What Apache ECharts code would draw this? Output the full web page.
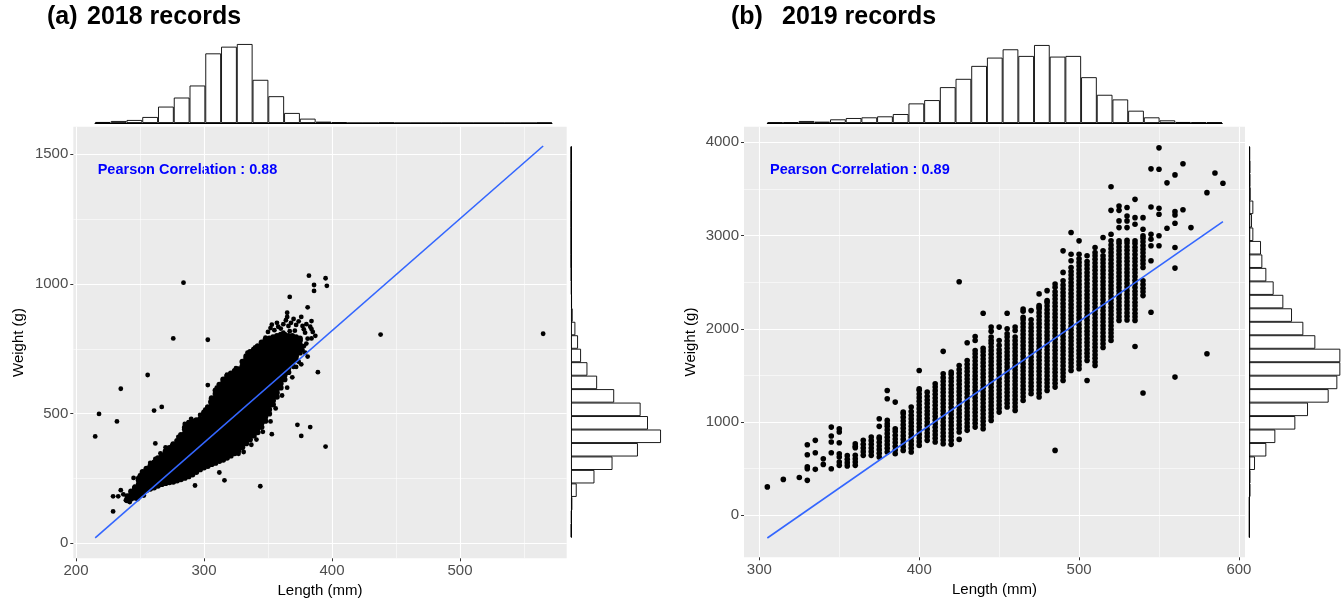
<!DOCTYPE html>
<html>
<head>
<meta charset="utf-8">
<script src="https://cdn.jsdelivr.net/npm/echarts@6/dist/echarts.min.js"></script>
<style>
  html, body { margin: 0; padding: 0; background: #fff; }
  #chart { width: 1343px; height: 600px; }
</style>
</head>
<body>
<div id="chart"></div>
<script>
// ---------- 2018 records ----------
// dense core: one length (mm) per column, weights (g) read off the cloud
const len18 = [240, 243, 246, 249, 252, 255, 258, 261, 264, 267, 270, 273, 276, 279, 282, 285, 288, 291, 294, 297,
  300, 303, 306, 309, 312, 315, 318, 321, 324, 327, 330, 333, 336, 339, 342, 345, 348, 351, 354, 357, 360, 363, 366, 369, 372, 375];
const wt18 = [
  [166, 182],
  [172, 187, 200],
  [176, 192, 207, 215],
  [180, 196, 212, 228, 243, 250],
  [190, 205, 221, 237, 253, 268, 275],
  [205, 220, 236, 252, 267, 282, 288],
  [210, 226, 242, 257, 273, 289, 298],
  [215, 231, 247, 262, 278, 294, 305, 312],
  [222, 238, 254, 269, 285, 301, 316, 328],
  [228, 244, 259, 275, 291, 306, 322, 334, 340],
  [232, 248, 264, 279, 295, 311, 326, 342, 355],
  [235, 251, 267, 282, 298, 314, 329, 345, 360, 368],
  [237, 253, 269, 284, 300, 316, 331, 347, 363, 376, 382],
  [242, 258, 273, 289, 305, 320, 336, 352, 367, 383, 395],
  [247, 263, 278, 294, 310, 325, 341, 357, 372, 388, 404, 418],
  [252, 268, 283, 299, 315, 330, 346, 362, 377, 393, 409, 424, 440, 447],
  [258, 274, 289, 305, 321, 336, 352, 368, 383, 399, 415, 430, 446, 462],
  [265, 281, 296, 312, 328, 343, 359, 375, 390, 406, 422, 437, 453, 470],
  [275, 290, 306, 322, 337, 353, 369, 384, 400, 416, 431, 447, 463, 475],
  [285, 301, 316, 332, 348, 363, 379, 395, 410, 426, 442, 457, 473, 480],
  [292, 308, 323, 339, 355, 370, 386, 402, 417, 433, 449, 464, 480, 496, 505],
  [298, 314, 330, 345, 361, 377, 392, 408, 424, 439, 455, 471, 486, 502, 518, 525],
  [305, 321, 336, 352, 368, 383, 399, 415, 430, 446, 462, 477, 493, 509, 524, 540, 556, 560],
  [310, 326, 342, 357, 373, 389, 404, 420, 436, 451, 467, 483, 498, 514, 530, 545, 561, 577, 590],
  [317, 333, 348, 364, 380, 395, 411, 427, 442, 458, 474, 489, 505, 521, 536, 552, 568, 583, 599, 612],
  [322, 338, 354, 369, 385, 401, 416, 432, 448, 463, 479, 495, 510, 526, 542, 557, 573, 589, 604, 620, 632],
  [330, 346, 361, 377, 393, 408, 424, 440, 455, 471, 487, 502, 518, 534, 549, 565, 581, 596, 612, 628, 645],
  [338, 354, 369, 385, 401, 416, 432, 448, 463, 479, 495, 510, 526, 542, 557, 573, 589, 604, 620, 636, 651, 655],
  [347, 363, 378, 394, 410, 425, 441, 457, 472, 488, 504, 519, 535, 551, 566, 582, 598, 613, 629, 645, 660, 665],
  [358, 374, 389, 405, 421, 436, 452, 468, 483, 499, 515, 530, 546, 562, 577, 593, 609, 624, 640, 656, 672],
  [370, 386, 401, 417, 433, 448, 464, 480, 495, 511, 527, 542, 558, 574, 589, 605, 621, 636, 652, 668, 683, 700],
  [385, 401, 416, 432, 448, 463, 479, 495, 510, 526, 542, 557, 573, 589, 604, 620, 636, 651, 667, 683, 698, 714, 722],
  [400, 416, 431, 447, 463, 478, 494, 510, 525, 541, 557, 572, 588, 604, 619, 635, 651, 666, 682, 698, 713, 729, 738],
  [415, 431, 446, 462, 478, 493, 509, 525, 540, 556, 572, 587, 603, 619, 634, 650, 666, 681, 697, 713, 728, 744, 748],
  [428, 444, 459, 475, 491, 506, 522, 538, 553, 569, 585, 600, 616, 632, 647, 663, 679, 694, 710, 726, 741, 757, 760],
  [448, 464, 479, 495, 511, 526, 542, 558, 573, 589, 605, 620, 636, 652, 667, 683, 699, 714, 730, 746, 761, 775],
  [472, 488, 503, 519, 535, 550, 566, 582, 597, 613, 629, 644, 660, 676, 691, 707, 723, 738, 754, 770, 785],
  [500, 516, 531, 547, 563, 578, 594, 610, 625, 641, 657, 672, 688, 704, 719, 735, 751, 766, 782, 790],
  [535, 551, 566, 582, 598, 613, 629, 645, 660, 676, 692, 707, 723, 739, 754, 770, 786, 795],
  [565, 581, 596, 612, 628, 643, 659, 675, 690, 706, 722, 737, 753, 769, 784, 800],
  [600, 616, 631, 647, 663, 678, 694, 710, 725, 741, 757, 772, 788, 805],
  [632, 648, 663, 679, 695, 710, 726, 742, 757, 773, 789, 805],
  [660, 676, 691, 707, 723, 738, 754, 770, 785, 800],
  [690, 706, 721, 737, 753, 768, 784, 800],
  [706, 722, 737, 753, 769, 784, 795],
  [735, 751, 766, 782, 790]
];
// scattered fish around the cloud and outliers [length, weight]
const extra18 = [
  [215, 412], [218, 499], [232, 470], [235, 596], [229, 123], [229, 181], [233, 181], [237, 189], [235, 205],
  [239, 166], [242, 159], [245, 252], [246, 218], [256, 649], [261, 512], [267, 526], [262, 385], [266, 347],
  [275, 377], [288, 467], [296, 473], [303, 610], [293, 223], [312, 273], [316, 243], [344, 220], [353, 421],
  [373, 457], [376, 414], [383, 448], [395, 373], [389, 660], [284, 1005], [276, 790], [303, 785], [438, 805],
  [565, 808], [382, 1032], [395, 1022], [386, 996], [396, 993], [386, 973], [367, 950], [381, 910], [365, 889],
  [365, 873], [376, 873], [384, 857], [353, 843], [357, 850], [384, 826], [379, 812], [381, 789], [348, 793],
  [350, 815], [352, 830], [355, 822], [358, 835], [360, 828], [362, 845], [364, 860], [366, 838], [368, 850],
  [370, 865], [372, 842], [374, 856], [377, 838], [380, 845], [383, 835], [378, 825], [371, 820], [367, 818],
  [362, 812], [385, 815], [387, 800], [384, 790], [380, 770], [378, 760], [377, 745], [379, 735], [381, 720],
  [374, 700], [376, 690], [370, 680], [327, 345], [331, 352], [337, 380], [341, 400], [346, 430], [352, 470],
  [356, 520], [361, 570], [365, 600], [369, 640], [372, 680], [258, 310], [262, 325], [270, 370], [280, 410],
  [285, 460], [290, 480], [297, 495], [301, 515], [305, 545], [310, 600], [318, 650], [325, 675], [334, 735],
  [340, 755], [250, 262], [248, 170], [253, 184]
];
const fit18 = [[215, 21], [565, 1532]];
// marginal histograms (29 bins, counts)
const histLen18 = [3, 6, 9, 18, 49, 76, 112, 208, 228, 236, 129, 80, 30, 13, 4, 2, 0, 0, 1, 0, 0, 0, 0, 0, 0, 0, 0, 0, 1];
const histWt18 = [1, 2, 4, 17, 70, 124, 200, 269, 230, 208, 129, 78, 49, 30, 21, 13, 5, 3, 2, 1, 0, 0, 0, 0, 0, 0, 0, 0, 0];
const xTicks18 = [200, 300, 400, 500];
const yTicks18 = [0, 500, 1000, 1500];

// ---------- 2019 records ----------
const len19 = [305, 315, 325, 330, 335, 340, 345, 350, 355, 360, 365, 370, 375, 380, 385, 390, 395, 400, 405, 410,
  415, 420, 425, 430, 435, 440, 445, 450, 455, 460, 465, 470, 475, 480, 485, 490, 495, 500, 505, 510, 515, 520,
  525, 530, 535, 540, 545, 550, 555, 560, 565, 570, 580, 585, 590];
const wt19 = [
  [305],
  [385],
  [405],
  [375, 500, 520, 650, 757],
  [493, 671, 804],
  [546, 607],
  [500, 671, 786, 850, 946],
  [536, 571, 625, 661, 779, 893, 929],
  [530, 565, 600, 640],
  [536, 571, 607, 643, 725, 740, 768],
  [643, 683, 722, 762, 804],
  [643, 683, 722, 761, 801, 840],
  [625, 665, 704, 744, 783, 822, 840, 954, 1036],
  [679, 719, 758, 798, 837, 876, 916, 955, 982, 1018, 1250, 1339],
  [661, 701, 740, 780, 819, 858, 898, 929, 1214],
  [696, 736, 775, 815, 854, 893, 933, 972, 1012, 1051, 1090, 1107],
  [679, 719, 758, 797, 837, 876, 916, 955, 994, 1034, 1073, 1112, 1161],
  [750, 790, 829, 868, 908, 947, 986, 1026, 1065, 1104, 1144, 1183, 1222, 1262, 1301, 1340, 1357, 1553],
  [804, 844, 883, 922, 962, 1001, 1040, 1080, 1119, 1158, 1198, 1237, 1276, 1321],
  [786, 826, 865, 904, 944, 983, 1022, 1062, 1101, 1140, 1180, 1219, 1258, 1298, 1337, 1376, 1411],
  [768, 808, 847, 886, 926, 965, 1004, 1044, 1083, 1122, 1162, 1201, 1240, 1280, 1319, 1358, 1398, 1437, 1476, 1518, 1758],
  [761, 804, 844, 883, 922, 962, 1001, 1040, 1080, 1119, 1158, 1198, 1237, 1276, 1316, 1355, 1394, 1434, 1473, 1512, 1536],
  [814, 893, 933, 972, 1011, 1051, 1090, 1129, 1169, 1208, 1247, 1287, 1326, 1365, 1405, 1444, 1483, 1523, 1562, 1607, 2505],
  [911, 951, 990, 1029, 1069, 1108, 1147, 1187, 1226, 1265, 1305, 1344, 1383, 1423, 1462, 1501, 1541, 1580, 1619, 1660, 1850],
  [946, 986, 1025, 1064, 1104, 1143, 1182, 1222, 1261, 1300, 1340, 1379, 1418, 1458, 1497, 1536, 1576, 1615, 1654, 1694, 1733, 1768, 1875, 1918],
  [929, 969, 1008, 1047, 1087, 1126, 1165, 1205, 1244, 1283, 1323, 1362, 1401, 1441, 1480, 1519, 1559, 1598, 1637, 1677, 1716, 1755, 1790, 2167],
  [1018, 1058, 1097, 1136, 1176, 1215, 1254, 1294, 1333, 1372, 1412, 1451, 1490, 1530, 1569, 1608, 1648, 1687, 1726, 1766, 1805, 1844, 1875, 1911, 1975, 2018],
  [1107, 1147, 1186, 1225, 1265, 1304, 1343, 1383, 1422, 1461, 1501, 1540, 1579, 1619, 1658, 1697, 1737, 1776, 1822, 1875, 2018],
  [1161, 1201, 1240, 1279, 1319, 1358, 1397, 1437, 1476, 1515, 1555, 1594, 1633, 1673, 1712, 1751, 1791, 1830, 1869, 1911, 1947, 2000, 2167],
  [1125, 1165, 1204, 1243, 1283, 1322, 1361, 1401, 1440, 1479, 1519, 1558, 1597, 1637, 1676, 1715, 1755, 1794, 1833, 1873, 1911, 1982, 2018],
  [1232, 1272, 1311, 1350, 1390, 1429, 1468, 1508, 1547, 1586, 1626, 1665, 1704, 1744, 1783, 1822, 1862, 1901, 1940, 1980, 2019, 2058, 2098, 2124, 2189, 2213],
  [1304, 1344, 1383, 1422, 1462, 1501, 1540, 1580, 1619, 1658, 1698, 1737, 1776, 1816, 1855, 1894, 1934, 1973, 2012, 2052, 2096, 2195],
  [1268, 1308, 1347, 1386, 1426, 1465, 1504, 1544, 1583, 1622, 1662, 1701, 1740, 1780, 1819, 1858, 1898, 1937, 1976, 2016, 2055, 2094, 2134, 2173, 2212, 2231, 2249, 2374],
  [1339, 1379, 1418, 1457, 1497, 1536, 1575, 1615, 1654, 1693, 1733, 1772, 1811, 1851, 1890, 1929, 1969, 2008, 2047, 2087, 2126, 2165, 2205, 2244, 2283, 2302, 2409],
  [696, 1375, 1415, 1454, 1493, 1533, 1572, 1611, 1651, 1690, 1729, 1769, 1808, 1847, 1887, 1926, 1965, 2005, 2044, 2083, 2123, 2162, 2201, 2241, 2280, 2319, 2359, 2398, 2445, 2480],
  [1446, 1486, 1525, 1564, 1604, 1643, 1682, 1722, 1761, 1800, 1840, 1879, 1918, 1958, 1997, 2036, 2076, 2115, 2154, 2194, 2233, 2272, 2312, 2351, 2390, 2430, 2469, 2516, 2605, 2836],
  [1553, 1593, 1632, 1671, 1711, 1750, 1789, 1829, 1868, 1907, 1947, 1986, 2025, 2065, 2104, 2143, 2183, 2222, 2261, 2301, 2340, 2379, 2419, 2458, 2497, 2537, 2576, 2615, 2658, 2730, 2800, 3032],
  [1571, 1611, 1650, 1689, 1729, 1768, 1807, 1847, 1886, 1925, 1965, 2004, 2043, 2083, 2122, 2161, 2201, 2240, 2279, 2319, 2358, 2397, 2437, 2476, 2515, 2555, 2594, 2633, 2673, 2712, 2751, 2800, 2943],
  [1446, 1660, 1700, 1739, 1778, 1818, 1857, 1896, 1936, 1975, 2014, 2054, 2093, 2132, 2172, 2211, 2250, 2290, 2329, 2368, 2408, 2447, 2486, 2526, 2565, 2604, 2644, 2683, 2722, 2783],
  [1607, 1643, 1683, 1722, 1761, 1801, 1840, 1879, 1919, 1958, 1997, 2037, 2076, 2115, 2155, 2194, 2233, 2273, 2312, 2351, 2391, 2430, 2469, 2509, 2548, 2587, 2627, 2666, 2705, 2745, 2784, 2818, 2872],
  [1800, 1840, 1879, 1918, 1958, 1997, 2036, 2076, 2115, 2154, 2194, 2233, 2272, 2312, 2351, 2390, 2430, 2469, 2508, 2548, 2587, 2626, 2666, 2705, 2744, 2784, 2836, 2979],
  [1875, 1915, 1954, 1993, 2033, 2072, 2111, 2151, 2190, 2229, 2269, 2308, 2347, 2387, 2426, 2465, 2505, 2544, 2583, 2623, 2662, 2701, 2741, 2780, 2819, 2859, 2898, 2943, 3014, 3270, 3523],
  [2090, 2130, 2169, 2208, 2248, 2287, 2326, 2366, 2405, 2444, 2484, 2523, 2562, 2602, 2641, 2680, 2720, 2759, 2798, 2838, 2877, 2916, 2943, 3085, 3157, 3270, 3317],
  [2095, 2134, 2172, 2211, 2251, 2290, 2329, 2369, 2408, 2447, 2487, 2526, 2565, 2605, 2644, 2683, 2723, 2762, 2801, 2841, 2880, 2919, 2950, 3085, 3157, 3210, 3300],
  [1811, 2090, 2128, 2167, 2207, 2246, 2285, 2325, 2364, 2403, 2443, 2482, 2521, 2561, 2600, 2639, 2679, 2718, 2757, 2797, 2836, 2875, 2915, 2943, 3121, 3192, 3388],
  [1311, 2356, 2396, 2435, 2474, 2516, 2658, 2697, 2736, 2776, 2815, 2854, 2894, 2933, 2972, 2997, 3068, 3192],
  [2178, 2730, 2890, 2961, 3014, 3306, 3715],
  [2890, 2997, 3228, 3292, 3710, 3940],
  [3078, 3565],
  [1482, 2651, 2872, 3132, 3220, 3256, 3650],
  [3277, 3770],
  [3085],
  [1732, 3460],
  [3670],
  [3560]
];
const fit19 = [[305, -243], [590, 3149]];
const histLen19 = [2, 2, 6, 4, 11, 15, 17, 20, 27, 59, 69, 108, 133, 172, 197, 222, 202, 235, 200, 202, 138, 85, 71, 37, 17, 8, 3, 2, 2];
const histWt19 = [0, 0, 0, 3, 3, 17, 51, 78, 138, 176, 238, 264, 273, 273, 198, 162, 128, 102, 73, 51, 39, 35, 12, 8, 12, 4, 3, 3, 2];
const xTicks19 = [300, 400, 500, 600];
const yTicks19 = [0, 1000, 2000, 3000, 4000];

const FONT = '"Liberation Sans", Arial, Helvetica, sans-serif';

const core18 = len18.flatMap((x, i) => wt18[i].map(w => [x, w]));
const pts19 = len19.flatMap((x, i) => wt19[i].map(w => [x, w]));

function valAxis(grid, min, max, ticks, step, isY, nameGap) {
  return {
    type: 'value', gridIndex: grid, min: min, max: max,
    minInterval: step, maxInterval: step,
    name: isY ? 'Weight (g)' : 'Length (mm)',
    nameLocation: 'middle', nameGap: nameGap,
    nameTextStyle: { color: '#000', fontSize: 15, fontFamily: FONT },
    axisLine: { show: false, onZero: false },
    axisTick: { show: true, length: 3, customValues: ticks, lineStyle: { color: '#333', width: 1 } },
    axisLabel: { color: '#4d4d4d', fontSize: 15, fontFamily: FONT, customValues: ticks, margin: 5,
      formatter: v => String(v) },
    splitLine: { show: true, lineStyle: { color: '#fff', width: 1.1 } },
    minorTick: { show: false, splitNumber: 2 },
    minorSplitLine: { show: true, lineStyle: { color: '#fff', width: 0.55 } }
  };
}

function histCat(grid, n) {
  return {
    type: 'category', gridIndex: grid, data: Array.from({ length: n }, (_, i) => i), boundaryGap: true,
    axisLine: { show: true, onZero: false, lineStyle: { color: '#000', width: 1 } },
    axisTick: { show: false }, axisLabel: { show: false }, splitLine: { show: false }
  };
}
function histVal(grid, counts) {
  return { type: 'value', gridIndex: grid, min: 0, max: Math.max(...counts), show: false, splitLine: { show: false } };
}
function histSeries(grid, counts) {
  return {
    type: 'bar', xAxisIndex: grid, yAxisIndex: grid, data: counts, barCategoryGap: '0%', silent: true,
    itemStyle: { color: '#fff', borderColor: '#000', borderWidth: 0.9 }
  };
}

const gridBase = { show: true, borderWidth: 0, outerBoundsMode: 'none', containLabel: false };

const option = {
  animation: false,
  backgroundColor: '#fff',
  grid: [
    Object.assign({ left: 73.3, top: 126.7, width: 493.4, height: 431.6, backgroundColor: '#ebebeb' }, gridBase),
    Object.assign({ left: 744, top: 126.7, width: 501, height: 430.6, backgroundColor: '#ebebeb' }, gridBase),
    Object.assign({ left: 95, top: 44, width: 457, height: 79, backgroundColor: 'transparent' }, gridBase),
    Object.assign({ left: 571, top: 146.7, width: 90, height: 390.6, backgroundColor: 'transparent' }, gridBase),
    Object.assign({ left: 767.3, top: 45, width: 455, height: 78, backgroundColor: 'transparent' }, gridBase),
    Object.assign({ left: 1249.3, top: 146.7, width: 91, height: 390.6, backgroundColor: 'transparent' }, gridBase)
  ],
  xAxis: [
    valAxis(0, 197.9, 583.4, xTicks18, 100, false, 25),
    valAxis(1, 290.4, 603.8, xTicks19, 100, false, 25),
    histCat(2, histLen18.length),
    histVal(3, histWt18),
    histCat(4, histLen19.length),
    histVal(5, histWt19)
  ],
  yAxis: [
    valAxis(0, -57.8, 1606.4, yTicks18, 500, true, 47),
    valAxis(1, -450, 4167, yTicks19, 1000, true, 46),
    histVal(2, histLen18),
    histCat(3, histWt18.length),
    histVal(4, histLen19),
    histCat(5, histWt19.length)
  ],
  series: [
    { type: 'scatter', xAxisIndex: 0, yAxisIndex: 0, data: core18, symbol: 'circle', symbolSize: 5.8,
      itemStyle: { color: '#000', opacity: 1 }, silent: true },
    { type: 'scatter', xAxisIndex: 0, yAxisIndex: 0, data: extra18, symbol: 'circle', symbolSize: 4.8,
      itemStyle: { color: '#000', opacity: 1 }, silent: true },
    { type: 'line', xAxisIndex: 0, yAxisIndex: 0, data: fit18, symbol: 'none',
      lineStyle: { color: '#3366ff', width: 1.6 }, silent: true },
    { type: 'scatter', xAxisIndex: 1, yAxisIndex: 1, data: pts19, symbol: 'circle', symbolSize: 5.6,
      itemStyle: { color: '#000', opacity: 1 }, silent: true },
    { type: 'line', xAxisIndex: 1, yAxisIndex: 1, data: fit19, symbol: 'none',
      lineStyle: { color: '#3366ff', width: 1.6 }, silent: true },
    histSeries(2, histLen18),
    histSeries(3, histWt18),
    histSeries(4, histLen19),
    histSeries(5, histWt19)
  ],
  graphic: [
    { type: 'text', left: 47, top: 5, style: { text: '(a)', font: 'bold 25px ' + FONT, fill: '#000' } },
    { type: 'text', left: 87, top: 5, style: { text: '2018 records', font: 'bold 25px ' + FONT, fill: '#000' } },
    { type: 'text', left: 731, top: 5, style: { text: '(b)', font: 'bold 25px ' + FONT, fill: '#000' } },
    { type: 'text', left: 782, top: 5, style: { text: '2019 records', font: 'bold 25px ' + FONT, fill: '#000' } },
    { type: 'text', left: 97.7, top: 162.5, style: { text: 'Pearson Correlation : 0.88', font: 'bold 14.5px ' + FONT, fill: '#0000ff' } },
    { type: 'text', left: 770, top: 162.5, style: { text: 'Pearson Correlation : 0.89', font: 'bold 14.5px ' + FONT, fill: '#0000ff' } }
  ]
};

const chart = echarts.init(document.getElementById('chart'), null, { renderer: 'canvas' });
chart.setOption(option);
</script>
</body>
</html>
